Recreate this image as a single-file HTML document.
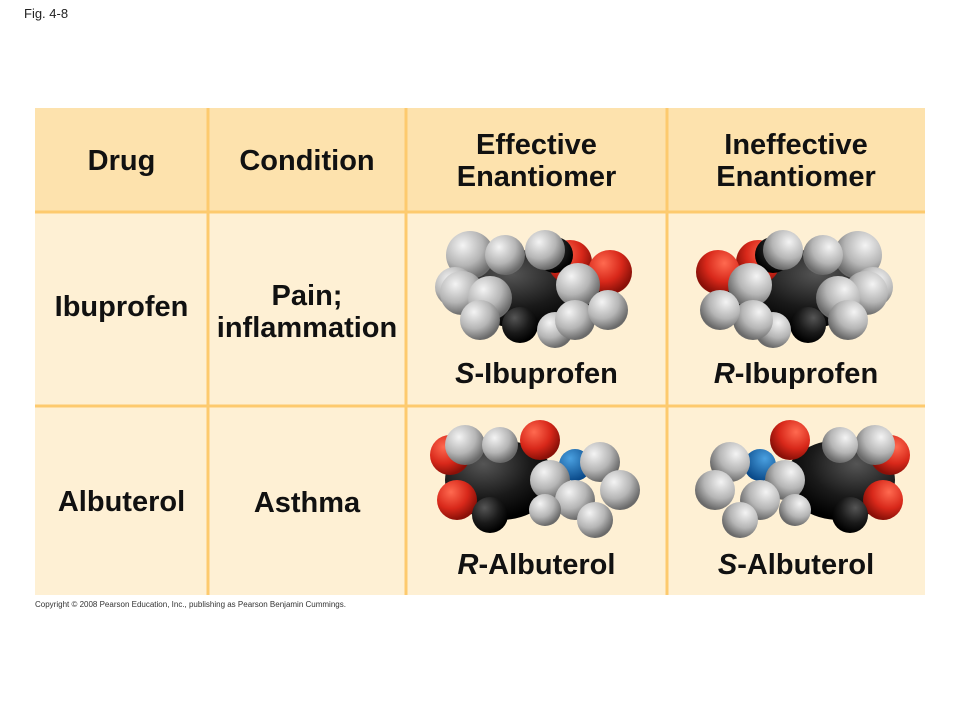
<!DOCTYPE html>
<html><head><meta charset="utf-8"><style>
body{margin:0;width:960px;height:720px;background:#fff;position:relative;overflow:hidden;font-family:"Liberation Sans",Arial,sans-serif}
.t{position:absolute;font-weight:bold;color:#111;text-align:center;font-size:29px;line-height:32px}
</style></head><body>
<div style="position:absolute;left:24px;top:6px;font-size:13px;color:#222">Fig. 4-8</div>
<svg width="960" height="720" style="position:absolute;left:0;top:0">
<defs>
<radialGradient id="g" cx="35%" cy="30%" r="70%"><stop offset="0" stop-color="#f4f4f4"/><stop offset=".6" stop-color="#b5b5b5"/><stop offset="1" stop-color="#6a6a6a"/></radialGradient>
<radialGradient id="k" cx="35%" cy="30%" r="70%"><stop offset="0" stop-color="#555"/><stop offset=".6" stop-color="#1a1a1a"/><stop offset="1" stop-color="#000"/></radialGradient>
<radialGradient id="r" cx="35%" cy="30%" r="70%"><stop offset="0" stop-color="#ff6a50"/><stop offset=".6" stop-color="#d8281a"/><stop offset="1" stop-color="#8a1008"/></radialGradient>
<radialGradient id="b" cx="35%" cy="30%" r="70%"><stop offset="0" stop-color="#4aa0e0"/><stop offset="1" stop-color="#0a4a8a"/></radialGradient>
</defs>
<rect x="35" y="108" width="890" height="104" fill="#fde2ad"/>
<rect x="35" y="212" width="890" height="383" fill="#fef0d4"/>
<g stroke="#fdca6e" stroke-width="3">
<line x1="35" y1="212" x2="925" y2="212"/><line x1="35" y1="406" x2="925" y2="406"/>
<line x1="208" y1="108" x2="208" y2="595"/><line x1="406" y1="108" x2="406" y2="595"/><line x1="667" y1="108" x2="667" y2="595"/>
</g>
<g>
<ellipse cx="532" cy="290" rx="70" ry="40" fill="url(#k)"/>
<circle cx="570" cy="262" r="22" fill="url(#r)"/><circle cx="610" cy="272" r="22" fill="url(#r)"/>
<circle cx="555" cy="255" r="18" fill="url(#k)"/>
<circle cx="470" cy="255" r="24" fill="url(#g)"/><circle cx="505" cy="255" r="20" fill="url(#g)"/><circle cx="545" cy="250" r="20" fill="url(#g)"/>
<circle cx="455" cy="287" r="20" fill="url(#g)"/><circle cx="462" cy="293" r="22" fill="url(#g)"/><circle cx="490" cy="298" r="22" fill="url(#g)"/>
<circle cx="480" cy="320" r="20" fill="url(#g)"/><circle cx="520" cy="325" r="18" fill="url(#k)"/><circle cx="555" cy="330" r="18" fill="url(#g)"/>
<circle cx="578" cy="285" r="22" fill="url(#g)"/><circle cx="575" cy="320" r="20" fill="url(#g)"/><circle cx="608" cy="310" r="20" fill="url(#g)"/>
</g>
<g transform="translate(1328,0) scale(-1,1)">
<ellipse cx="532" cy="290" rx="70" ry="40" fill="url(#k)"/>
<circle cx="570" cy="262" r="22" fill="url(#r)"/><circle cx="610" cy="272" r="22" fill="url(#r)"/>
<circle cx="555" cy="255" r="18" fill="url(#k)"/>
<circle cx="470" cy="255" r="24" fill="url(#g)"/><circle cx="505" cy="255" r="20" fill="url(#g)"/><circle cx="545" cy="250" r="20" fill="url(#g)"/>
<circle cx="455" cy="287" r="20" fill="url(#g)"/><circle cx="462" cy="293" r="22" fill="url(#g)"/><circle cx="490" cy="298" r="22" fill="url(#g)"/>
<circle cx="480" cy="320" r="20" fill="url(#g)"/><circle cx="520" cy="325" r="18" fill="url(#k)"/><circle cx="555" cy="330" r="18" fill="url(#g)"/>
<circle cx="578" cy="285" r="22" fill="url(#g)"/><circle cx="575" cy="320" r="20" fill="url(#g)"/><circle cx="608" cy="310" r="20" fill="url(#g)"/>
</g>
<g>
<ellipse cx="500" cy="480" rx="55" ry="40" fill="url(#k)"/>
<circle cx="450" cy="455" r="20" fill="url(#r)"/><circle cx="457" cy="500" r="20" fill="url(#r)"/><circle cx="540" cy="440" r="20" fill="url(#r)"/>
<circle cx="465" cy="445" r="20" fill="url(#g)"/><circle cx="500" cy="445" r="18" fill="url(#g)"/>
<circle cx="575" cy="465" r="16" fill="url(#b)"/>
<circle cx="550" cy="480" r="20" fill="url(#g)"/><circle cx="600" cy="462" r="20" fill="url(#g)"/><circle cx="620" cy="490" r="20" fill="url(#g)"/>
<circle cx="575" cy="500" r="20" fill="url(#g)"/><circle cx="595" cy="520" r="18" fill="url(#g)"/><circle cx="545" cy="510" r="16" fill="url(#g)"/>
<circle cx="490" cy="515" r="18" fill="url(#k)"/>
</g>
<g transform="translate(1340,0) scale(-1,1)">
<ellipse cx="500" cy="480" rx="55" ry="40" fill="url(#k)"/>
<circle cx="450" cy="455" r="20" fill="url(#r)"/><circle cx="457" cy="500" r="20" fill="url(#r)"/><circle cx="550" cy="440" r="20" fill="url(#r)"/>
<circle cx="465" cy="445" r="20" fill="url(#g)"/><circle cx="500" cy="445" r="18" fill="url(#g)"/>
<circle cx="580" cy="465" r="16" fill="url(#b)"/>
<circle cx="555" cy="480" r="20" fill="url(#g)"/><circle cx="610" cy="462" r="20" fill="url(#g)"/><circle cx="625" cy="490" r="20" fill="url(#g)"/>
<circle cx="580" cy="500" r="20" fill="url(#g)"/><circle cx="600" cy="520" r="18" fill="url(#g)"/><circle cx="545" cy="510" r="16" fill="url(#g)"/>
<circle cx="490" cy="515" r="18" fill="url(#k)"/>
</g>
</svg>
<div class="t" style="left:35px;width:173px;top:145px">Drug</div>
<div class="t" style="left:208px;width:198px;top:145px">Condition</div>
<div class="t" style="left:406px;width:261px;top:129px">Effective<br>Enantiomer</div>
<div class="t" style="left:667px;width:258px;top:129px">Ineffective<br>Enantiomer</div>
<div class="t" style="left:35px;width:173px;top:291px">Ibuprofen</div>
<div class="t" style="left:208px;width:198px;top:280px">Pain;<br>inflammation</div>
<div class="t" style="left:406px;width:261px;top:358px"><i>S</i>-Ibuprofen</div>
<div class="t" style="left:667px;width:258px;top:358px"><i>R</i>-Ibuprofen</div>
<div class="t" style="left:35px;width:173px;top:486px">Albuterol</div>
<div class="t" style="left:208px;width:198px;top:487px">Asthma</div>
<div class="t" style="left:406px;width:261px;top:549px"><i>R</i>-Albuterol</div>
<div class="t" style="left:667px;width:258px;top:549px"><i>S</i>-Albuterol</div>
<div style="position:absolute;left:35px;top:600px;font-size:8px;color:#333">Copyright © 2008 Pearson Education, Inc., publishing as Pearson Benjamin Cummings.</div>
</body></html>
